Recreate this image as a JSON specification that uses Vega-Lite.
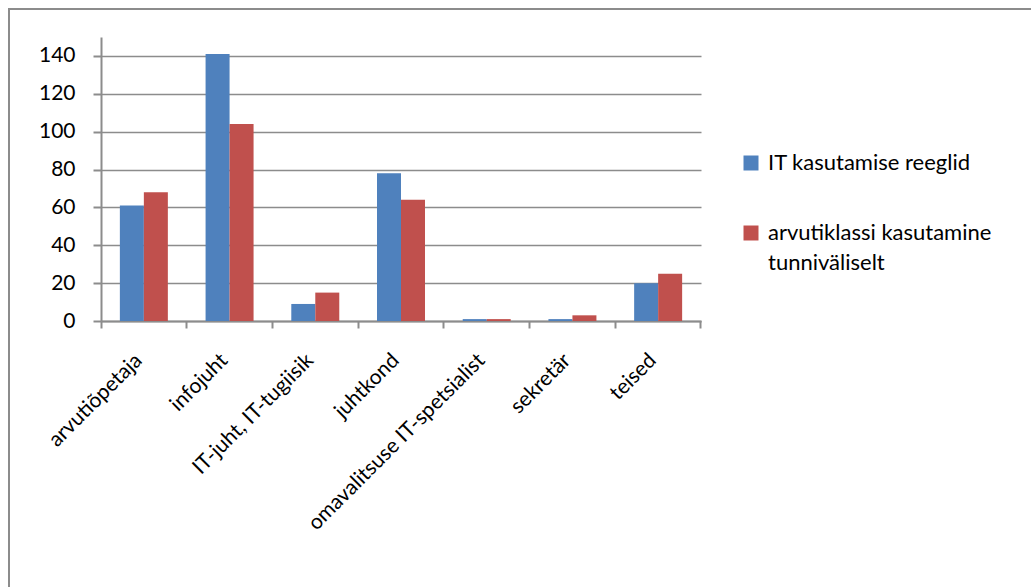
{
  "$schema": "https://vega.github.io/schema/vega-lite/v6.json",
  "autosize": {"type": "none"},
  "padding": {"left": 9, "top": 9, "right": 0, "bottom": 0},
  "width": 1030,
  "height": 585,
  "background": "white",
  "config": {
    "view": {"stroke": "#8c8c8c", "strokeWidth": 2},
    "font": "Lato",
    "style": {"guide-label": {"lineHeight": 30}},
    "axis": {
      "labelFont": "Lato",
      "labelFontSize": 21,
      "labelColor": "#000000",
      "domainColor": "#8c8c8c",
      "domainWidth": 2,
      "tickColor": "#8c8c8c",
      "tickWidth": 2,
      "gridColor": "#8c8c8c",
      "gridWidth": 1.5,
      "gridOpacity": 1,
      "title": null
    },
    "legend": {
      "labelFont": "Lato",
      "labelFontSize": 22,
      "labelColor": "#000000"
    }
  },
  "data": {
    "values": [
      {"roll": "arvutiõpetaja", "seeria": "IT kasutamise reeglid", "arv": 61},
      {"roll": "arvutiõpetaja", "seeria": "arvutiklassi kasutamine tunniväliselt", "arv": 68},
      {"roll": "infojuht", "seeria": "IT kasutamise reeglid", "arv": 141},
      {"roll": "infojuht", "seeria": "arvutiklassi kasutamine tunniväliselt", "arv": 104},
      {"roll": "IT-juht, IT-tugiisik", "seeria": "IT kasutamise reeglid", "arv": 9},
      {"roll": "IT-juht, IT-tugiisik", "seeria": "arvutiklassi kasutamine tunniväliselt", "arv": 15},
      {"roll": "juhtkond", "seeria": "IT kasutamise reeglid", "arv": 78},
      {"roll": "juhtkond", "seeria": "arvutiklassi kasutamine tunniväliselt", "arv": 64},
      {"roll": "omavalitsuse IT-spetsialist", "seeria": "IT kasutamise reeglid", "arv": 1},
      {"roll": "omavalitsuse IT-spetsialist", "seeria": "arvutiklassi kasutamine tunniväliselt", "arv": 1},
      {"roll": "sekretär", "seeria": "IT kasutamise reeglid", "arv": 1},
      {"roll": "sekretär", "seeria": "arvutiklassi kasutamine tunniväliselt", "arv": 3},
      {"roll": "teised", "seeria": "IT kasutamise reeglid", "arv": 20},
      {"roll": "teised", "seeria": "arvutiklassi kasutamine tunniväliselt", "arv": 25}
    ]
  },
  "mark": {"type": "bar", "cornerRadius": 0},
  "encoding": {
    "x": {
      "field": "roll",
      "type": "nominal",
      "sort": null,
      "scale": {"range": [92, 692], "paddingInner": 0, "paddingOuter": 0},
      "axis": {
        "orient": "bottom",
        "offset": -273,
        "bandPosition": 1,
        "tickExtra": true,
        "tickSize": 7,
        "labelOffset": -5,
        "labelAngle": -45,
        "labelAlign": "right",
        "labelBaseline": "middle",
        "labelPadding": 29,
        "labelLimit": 400,
        "grid": false
      }
    },
    "xOffset": {
      "field": "seeria",
      "type": "nominal",
      "sort": ["IT kasutamise reeglid", "arvutiklassi kasutamine tunniväliselt"],
      "scale": {"paddingInner": 0, "paddingOuter": 0.786}
    },
    "y": {
      "field": "arv",
      "type": "quantitative",
      "scale": {"domain": [0, 150], "range": [312, 28], "nice": false},
      "axis": {
        "orient": "left",
        "offset": -92,
        "values": [0, 20, 40, 60, 80, 100, 120, 140],
        "tickSize": 8,
        "labelPadding": 18,
        "grid": true
      }
    },
    "color": {
      "field": "seeria",
      "type": "nominal",
      "sort": ["IT kasutamise reeglid", "arvutiklassi kasutamine tunniväliselt"],
      "scale": {"range": ["#4F81BD", "#C0504D"]},
      "legend": {
        "title": null,
        "orient": "none",
        "legendX": 731,
        "legendY": 143,
        "padding": 0,
        "symbolType": "square",
        "symbolSize": 225,
        "symbolStrokeWidth": 0,
        "symbolOpacity": 1,
        "labelOffset": 6,
        "rowPadding": 48,
        "labelLimit": 400,
        "labelBaseline": "middle",
        "labelExpr": "datum.label == 'arvutiklassi kasutamine tunniväliselt' ? ['arvutiklassi kasutamine', 'tunniväliselt'] : datum.label"
      }
    }
  }
}
